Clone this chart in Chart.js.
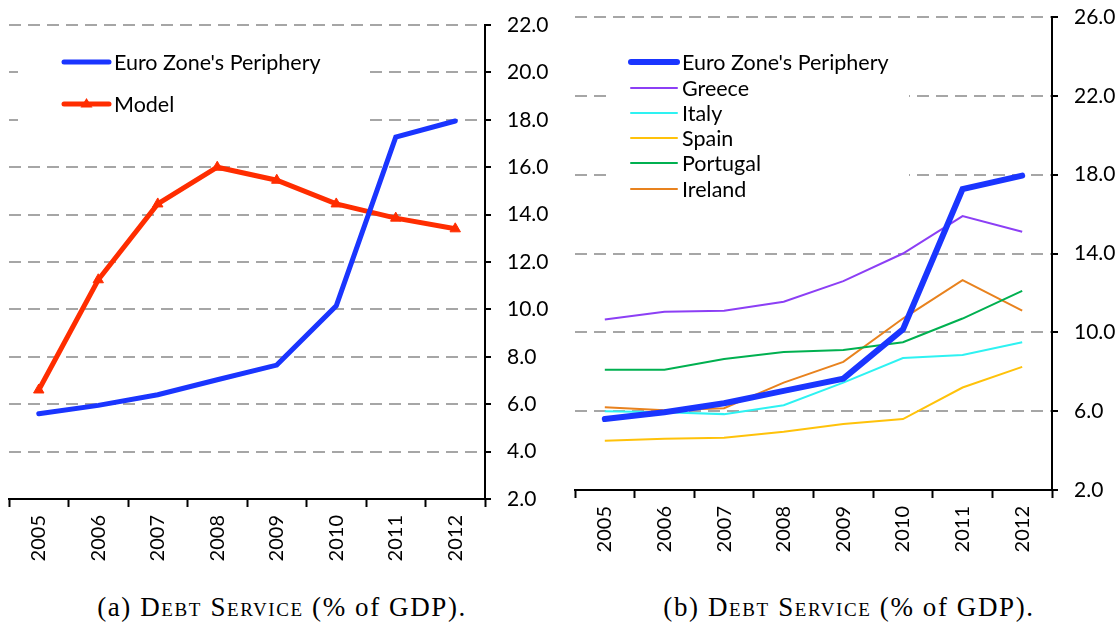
<!DOCTYPE html>
<html>
<head>
<meta charset="utf-8">
<script src="https://cdn.jsdelivr.net/npm/chart.js@4.4.0/dist/chart.umd.min.js"></script>
<style>
  body { margin: 0; background: #fff; width: 1117px; height: 624px; overflow: hidden; position: relative; }
  canvas { position: absolute; top: 0; }
  #leftChart { left: 0; }
  #rightChart { left: 560px; }
  .caption { position: absolute; top: 592px; height: 30px; line-height: 30px; font-family: 'Liberation Serif', serif; font-size: 27px; letter-spacing: 1.6px; color: #000; text-align: center; white-space: nowrap; }
  .caption .sc { font-variant: small-caps; }
</style>
</head>
<body>
<canvas id="leftChart" width="560" height="580"></canvas>
<canvas id="rightChart" width="557" height="580"></canvas>
<div class="caption" style="left:82px;width:400px">(a) <span class="sc">Debt Service</span> (% of GDP).</div>
<div class="caption" style="left:649px;width:400px">(b) <span class="sc">Debt Service</span> (% of GDP).</div>
<script>
const years = ['2005', '2006', '2007', '2008', '2009', '2010', '2011', '2012'];
const euroPeriphery = [5.6, 5.95, 6.4, 7.03, 7.65, 10.15, 17.27, 17.95];
const model = [6.6, 11.25, 14.45, 16.0, 15.45, 14.45, 13.85, 13.4];
const greece = [10.65, 11.05, 11.1, 11.55, 12.6, 14.0, 15.9, 15.1];
const italy = [6.0, 5.95, 5.85, 6.3, 7.45, 8.7, 8.85, 9.5];
const spain = [4.5, 4.6, 4.65, 4.95, 5.35, 5.6, 7.2, 8.25];
const portugal = [8.1, 8.1, 8.65, 9.0, 9.1, 9.5, 10.7, 12.1];
const ireland = [6.2, 6.05, 6.15, 7.45, 8.5, 10.7, 12.65, 11.1];

const FONT = 'Lato';
const gridGray = '#a6a6a6';

// legend drawn inside the plot on a white box, like the original
function boxLegend(cfg) {
    return {
        id: 'boxLegend',
        afterDatasetsDraw(chart) {
            const ctx = chart.ctx;
            ctx.save();
            ctx.fillStyle = '#fff';
            ctx.fillRect(cfg.box[0], cfg.box[1], cfg.box[2], cfg.box[3]);
            ctx.font = '21.5px ' + FONT;
            ctx.textBaseline = 'middle';
            chart.data.datasets.forEach((ds, i) => {
                const y = cfg.rows[i];
                ctx.strokeStyle = ds.borderColor;
                ctx.lineWidth = ds.borderWidth;
                ctx.lineCap = 'round';
                ctx.beginPath();
                ctx.moveTo(cfg.x0, y);
                ctx.lineTo(cfg.x1, y);
                ctx.stroke();
                if (ds.pointStyle === 'triangle') {
                    const cx = (cfg.x0 + cfg.x1) / 2, r = ds.pointRadius;
                    ctx.fillStyle = ds.borderColor;
                    ctx.beginPath();
                    ctx.moveTo(cx, y - r);
                    ctx.lineTo(cx + r, y + r * 0.6);
                    ctx.lineTo(cx - r, y + r * 0.6);
                    ctx.closePath();
                    ctx.fill();
                }
                ctx.fillStyle = '#000';
                ctx.fillText(ds.label, cfg.textX, y + 1);
            });
            ctx.restore();
        }
    };
}

function makeScales(yMin, yMax, yStep, yWidth, yPad, xHeight) {
    return {
        x: {
            offset: true,
            grid: { display: true, drawOnChartArea: false, offset: true, tickLength: 8, tickColor: '#000', tickWidth: 2 },
            border: { display: true, color: '#000', width: 2 },
            ticks: { color: '#000', font: { family: FONT, size: 20 }, minRotation: 90, maxRotation: 90, padding: 8 },
            afterFit: s => { s.height = xHeight; }
        },
        y: {
            position: 'right',
            min: yMin,
            max: yMax,
            grid: {
                color: c => (c.tick && c.tick.value === yMin) ? 'rgba(0,0,0,0)' : gridGray,
                lineWidth: 2,
                tickLength: 6,
                tickColor: '#000',
                tickWidth: 2
            },
            border: { display: true, color: '#000', width: 2, dash: [12, 7] },
            ticks: {
                stepSize: yStep,
                color: '#000',
                padding: yPad,
                font: { family: FONT, size: 21 },
                callback: v => v.toFixed(1)
            },
            // fixed width, and keep the label padding from pushing the plot top down
            afterFit: s => { s.width = yWidth; s.paddingTop = 12; s.paddingBottom = 12; }
        }
    };
}

const baseOptions = {
    responsive: false,
    animation: false,
    elements: { line: { tension: 0 } },
    plugins: { legend: { display: false }, tooltip: { enabled: false } }
};

new Chart(document.getElementById('leftChart').getContext('2d'), {
    type: 'line',
    data: {
        labels: years,
        datasets: [
            { label: "Euro Zone's Periphery", data: euroPeriphery, borderColor: '#1a35ff', borderWidth: 5, pointRadius: 0, borderCapStyle: 'round' },
            { label: 'Model', data: model, borderColor: '#ff2d00', backgroundColor: '#ff2d00', borderWidth: 5, pointStyle: 'triangle', pointRadius: 6, pointBorderWidth: 1 }
        ]
    },
    options: Object.assign({}, baseOptions, {
        layout: { padding: { left: 9, top: 25, right: 0, bottom: 0 } },
        scales: makeScales(2, 22, 2, 75, 16, 81)
    }),
    plugins: [boxLegend({ box: [18, 35, 352, 105], rows: [62, 104], x0: 64, x1: 109, textX: 114 })]
});

new Chart(document.getElementById('rightChart').getContext('2d'), {
    type: 'line',
    data: {
        labels: years,
        datasets: [
            { label: "Euro Zone's Periphery", data: euroPeriphery, borderColor: '#1a35ff', borderWidth: 6, pointRadius: 0, borderCapStyle: 'round' },
            { label: 'Greece', data: greece, borderColor: '#8c3ff5', borderWidth: 2, pointRadius: 0 },
            { label: 'Italy', data: italy, borderColor: '#2ef2f2', borderWidth: 2, pointRadius: 0 },
            { label: 'Spain', data: spain, borderColor: '#ffc20a', borderWidth: 2, pointRadius: 0 },
            { label: 'Portugal', data: portugal, borderColor: '#00b050', borderWidth: 2, pointRadius: 0 },
            { label: 'Ireland', data: ireland, borderColor: '#e8821e', borderWidth: 2, pointRadius: 0 }
        ]
    },
    options: Object.assign({}, baseOptions, {
        layout: { padding: { left: 15, top: 17, right: 0, bottom: 0 } },
        scales: makeScales(2, 26, 4, 65, 16, 90)
    }),
    plugins: [boxLegend({ box: [46, 36, 303, 170], rows: [62, 88, 113, 138, 163, 189], x0: 71, x1: 117, textX: 122 })]
});
</script>
</body>
</html>
